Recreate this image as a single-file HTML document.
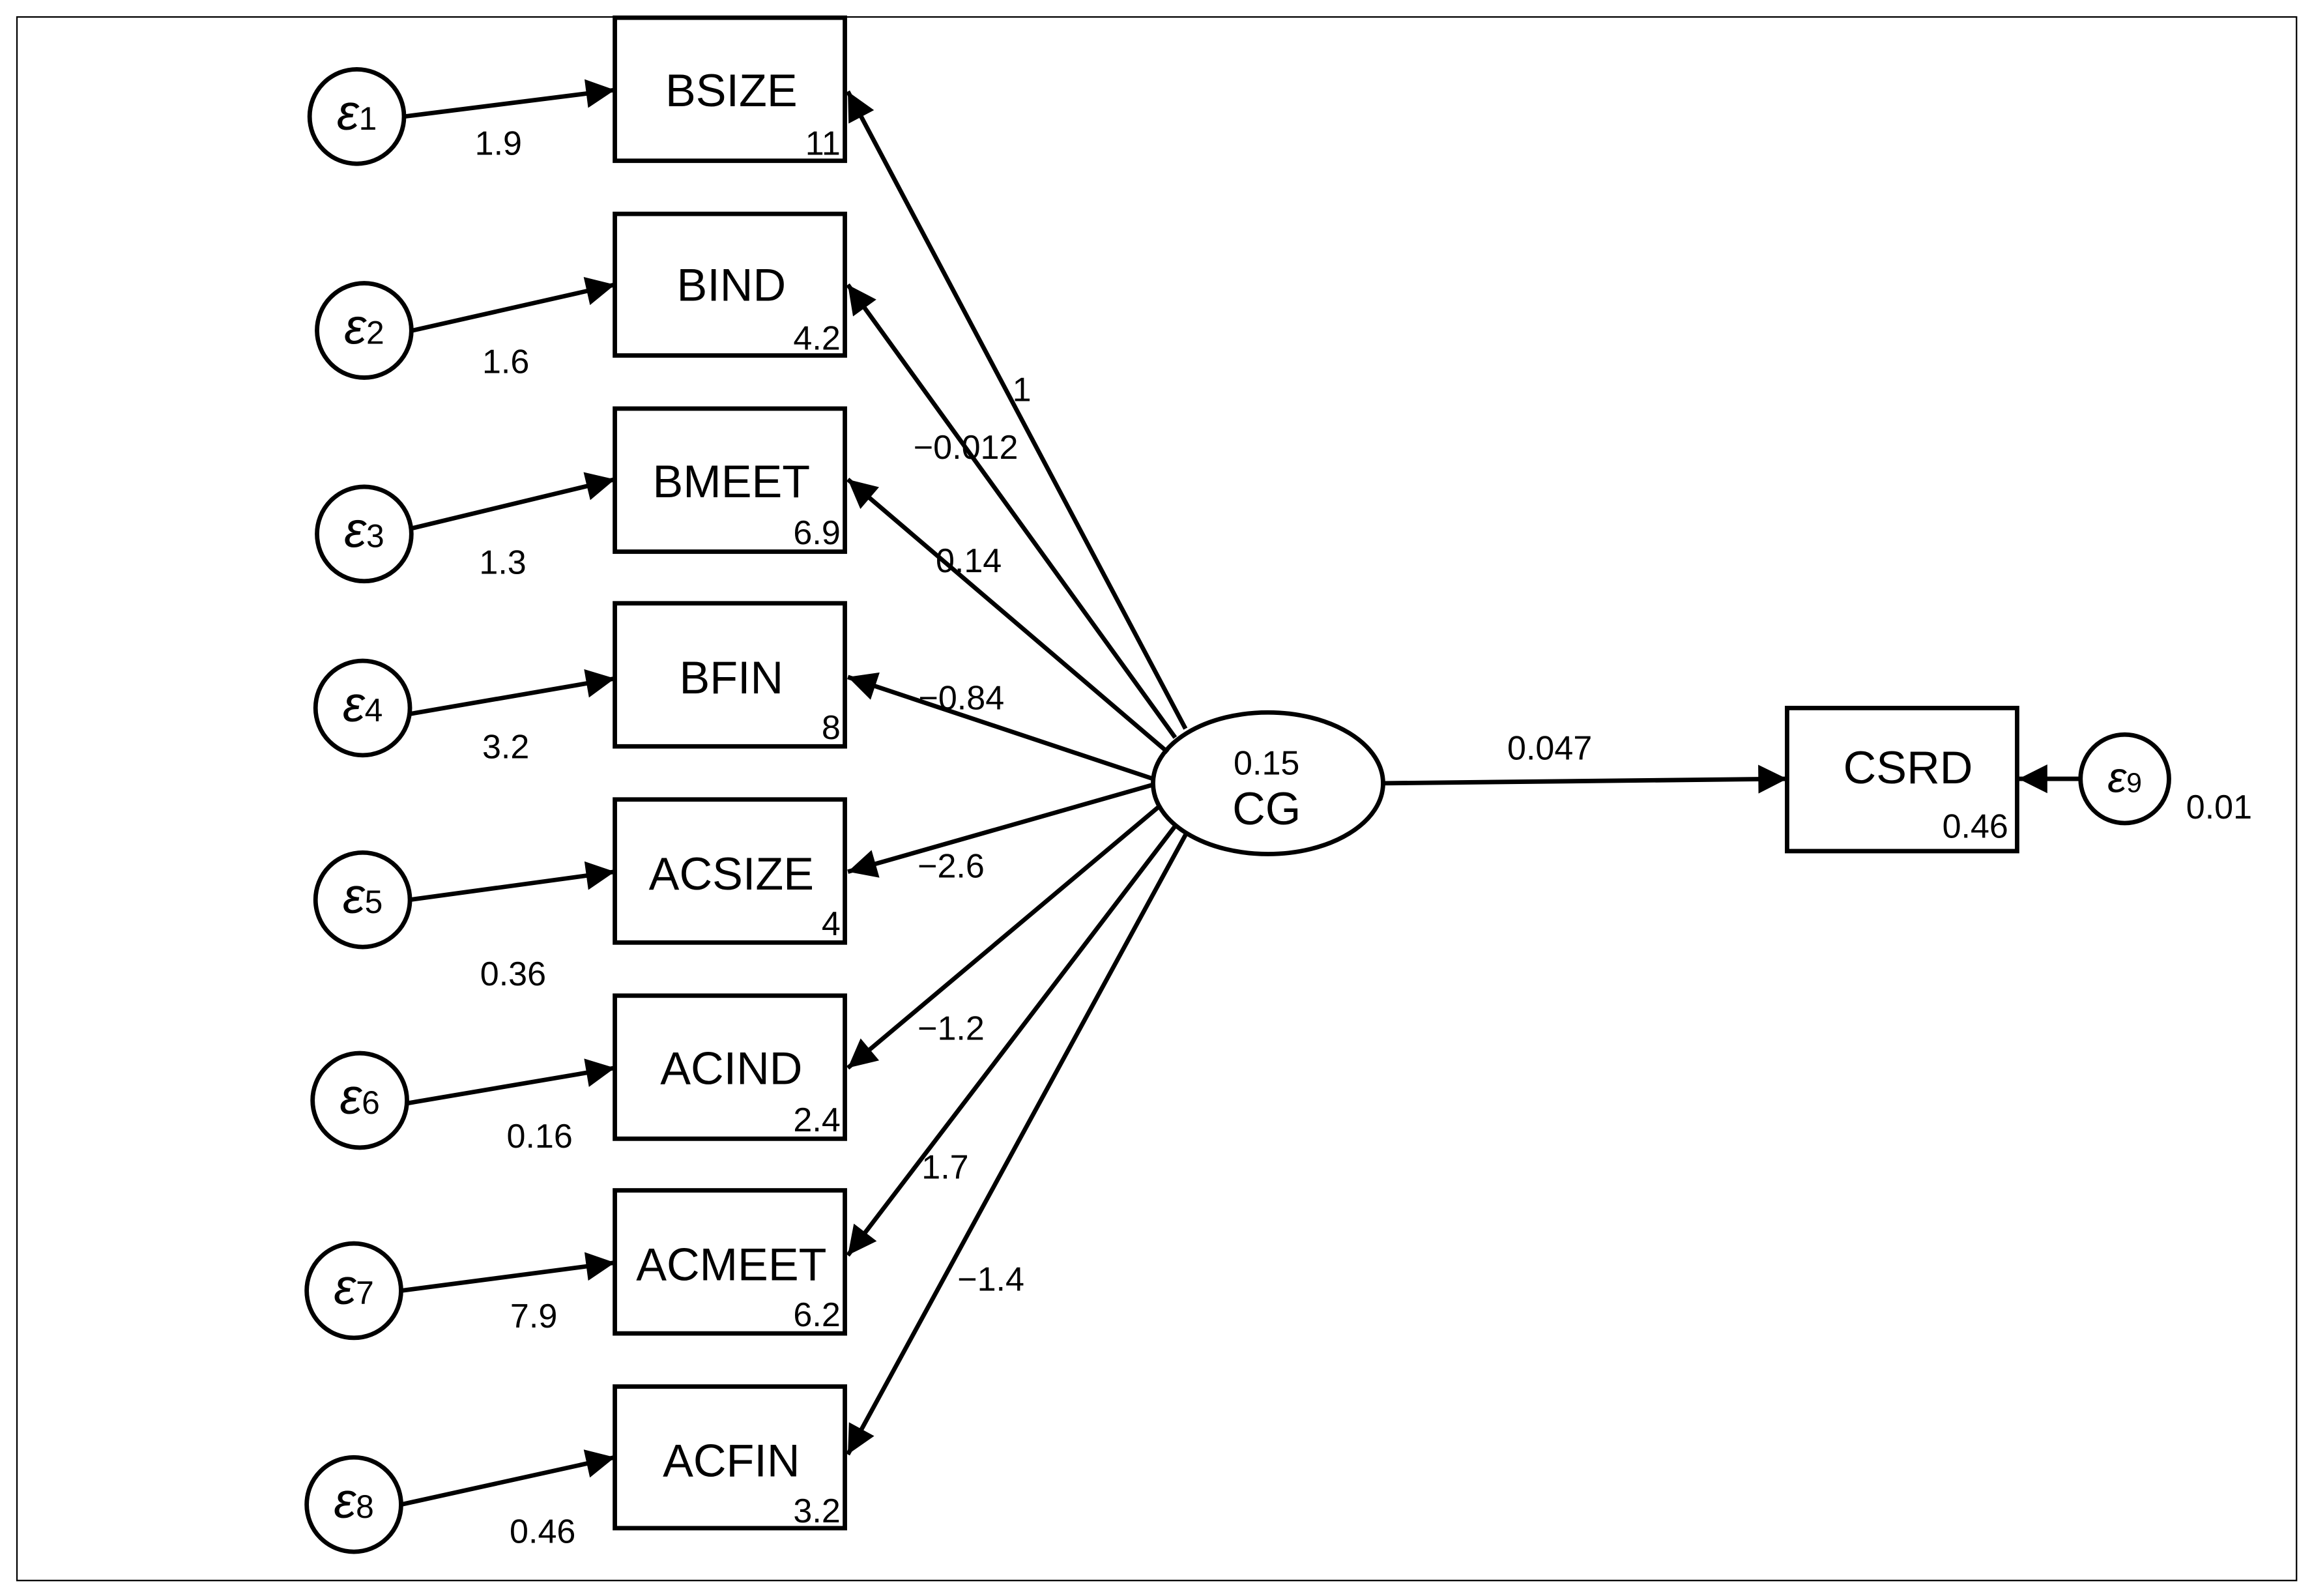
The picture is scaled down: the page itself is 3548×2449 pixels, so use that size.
<!DOCTYPE html>
<html><head><meta charset="utf-8"><style>
html,body{margin:0;padding:0;background:#fff}
svg{display:block}
text{font-family:"Liberation Sans",sans-serif;fill:#000}
.eps{font-family:"Liberation Serif",serif;font-style:italic}
</style></head><body>
<svg width="3548" height="2449" viewBox="0 0 1568 1082" preserveAspectRatio="none" xmlns="http://www.w3.org/2000/svg">
<defs>
<marker id="a" viewBox="0 0 10 10" refX="10" refY="5" markerWidth="7.5" markerHeight="6.5" markerUnits="strokeWidth" orient="auto"><path d="M0,0 L10,5 L0,10 z" fill="#000"/></marker>
</defs>
<rect x="11.5" y="11.5" width="1546" height="1060" fill="none" stroke="#000" stroke-width="1"/>
<g fill="none" stroke="#000" stroke-width="3">
<rect x="417" y="12" width="156" height="97"/>
<rect x="417" y="145" width="156" height="96"/>
<rect x="417" y="277" width="156" height="97"/>
<rect x="417" y="409" width="156" height="97"/>
<rect x="417" y="542" width="156" height="97"/>
<rect x="417" y="675" width="156" height="97"/>
<rect x="417" y="807" width="156" height="97"/>
<rect x="417" y="940" width="156" height="96"/>
<rect x="1212" y="480" width="156" height="97"/>
<ellipse cx="860" cy="531" rx="78" ry="48"/>
<circle cx="242" cy="79" r="32"/>
<circle cx="247" cy="224" r="32"/>
<circle cx="247" cy="362" r="32"/>
<circle cx="246" cy="480" r="32"/>
<circle cx="246" cy="610" r="32"/>
<circle cx="244" cy="746" r="32"/>
<circle cx="240" cy="875" r="32"/>
<circle cx="240" cy="1020" r="32"/>
<circle cx="1441" cy="528" r="30"/>
</g>
<g stroke="#000" stroke-width="3" marker-end="url(#a)">
<line x1="274" y1="79" x2="417" y2="61"/>
<line x1="280" y1="224" x2="417" y2="193"/>
<line x1="280" y1="358" x2="417" y2="325"/>
<line x1="278" y1="484" x2="417" y2="460"/>
<line x1="278" y1="610" x2="417" y2="591"/>
<line x1="276" y1="748" x2="417" y2="724"/>
<line x1="272" y1="875" x2="417" y2="856"/>
<line x1="272" y1="1020" x2="417" y2="988"/>
<line x1="804" y1="494" x2="575" y2="62"/>
<line x1="797" y1="500" x2="575" y2="193"/>
<line x1="792" y1="510" x2="575" y2="325"/>
<line x1="782" y1="528" x2="575" y2="459"/>
<line x1="782" y1="532" x2="575" y2="591"/>
<line x1="787" y1="546" x2="575" y2="724"/>
<line x1="797" y1="560" x2="575" y2="851"/>
<line x1="804" y1="566" x2="575" y2="986"/>
<line x1="938" y1="531" x2="1212" y2="528"/>
<line x1="1411" y1="528" x2="1369" y2="528"/>
</g>
<g font-size="31" text-anchor="middle">
<text x="496" y="72">BSIZE</text>
<text x="496" y="204">BIND</text>
<text x="496" y="337">BMEET</text>
<text x="496" y="470">BFIN</text>
<text x="496" y="603">ACSIZE</text>
<text x="496" y="735">ACIND</text>
<text x="496" y="868">ACMEET</text>
<text x="496" y="1001">ACFIN</text>
<text x="1294" y="531">CSRD</text>
<text x="859" y="559">CG</text>
</g>
<g font-size="23" text-anchor="end">
<text x="570" y="105">11</text>
<text x="570" y="237">4.2</text>
<text x="570" y="369">6.9</text>
<text x="570" y="501">8</text>
<text x="570" y="634">4</text>
<text x="570" y="767">2.4</text>
<text x="570" y="899">6.2</text>
<text x="570" y="1032">3.2</text>
<text x="1362" y="568">0.46</text>
</g>
<g font-size="23" text-anchor="middle">
<text x="859" y="525">0.15</text>
<text x="338" y="105">1.9</text>
<text x="343" y="253">1.6</text>
<text x="341" y="389">1.3</text>
<text x="343" y="514">3.2</text>
<text x="348" y="668">0.36</text>
<text x="366" y="778">0.16</text>
<text x="362" y="900">7.9</text>
<text x="368" y="1046">0.46</text>
<text x="693" y="272">1</text>
<text x="655" y="311">−0.012</text>
<text x="657" y="388">0.14</text>
<text x="652" y="481">−0.84</text>
<text x="645" y="595">−2.6</text>
<text x="645" y="705">−1.2</text>
<text x="641" y="799">1.7</text>
<text x="672" y="875">−1.4</text>
<text x="1051" y="515">0.047</text>
<text x="1505" y="555">0.01</text>
</g>
<g class="eps" font-size="34" text-anchor="middle">
<text x="242" y="88">ε<tspan font-size="22" font-style="normal">1</tspan></text>
<text x="247" y="233">ε<tspan font-size="22" font-style="normal">2</tspan></text>
<text x="247" y="371">ε<tspan font-size="22" font-style="normal">3</tspan></text>
<text x="246" y="489">ε<tspan font-size="22" font-style="normal">4</tspan></text>
<text x="246" y="619">ε<tspan font-size="22" font-style="normal">5</tspan></text>
<text x="244" y="755">ε<tspan font-size="22" font-style="normal">6</tspan></text>
<text x="240" y="884">ε<tspan font-size="22" font-style="normal">7</tspan></text>
<text x="240" y="1029">ε<tspan font-size="22" font-style="normal">8</tspan></text>
<text x="1441" y="537" font-size="29">ε<tspan font-size="19" font-style="normal">9</tspan></text>
</g>
</svg>
</body></html>
